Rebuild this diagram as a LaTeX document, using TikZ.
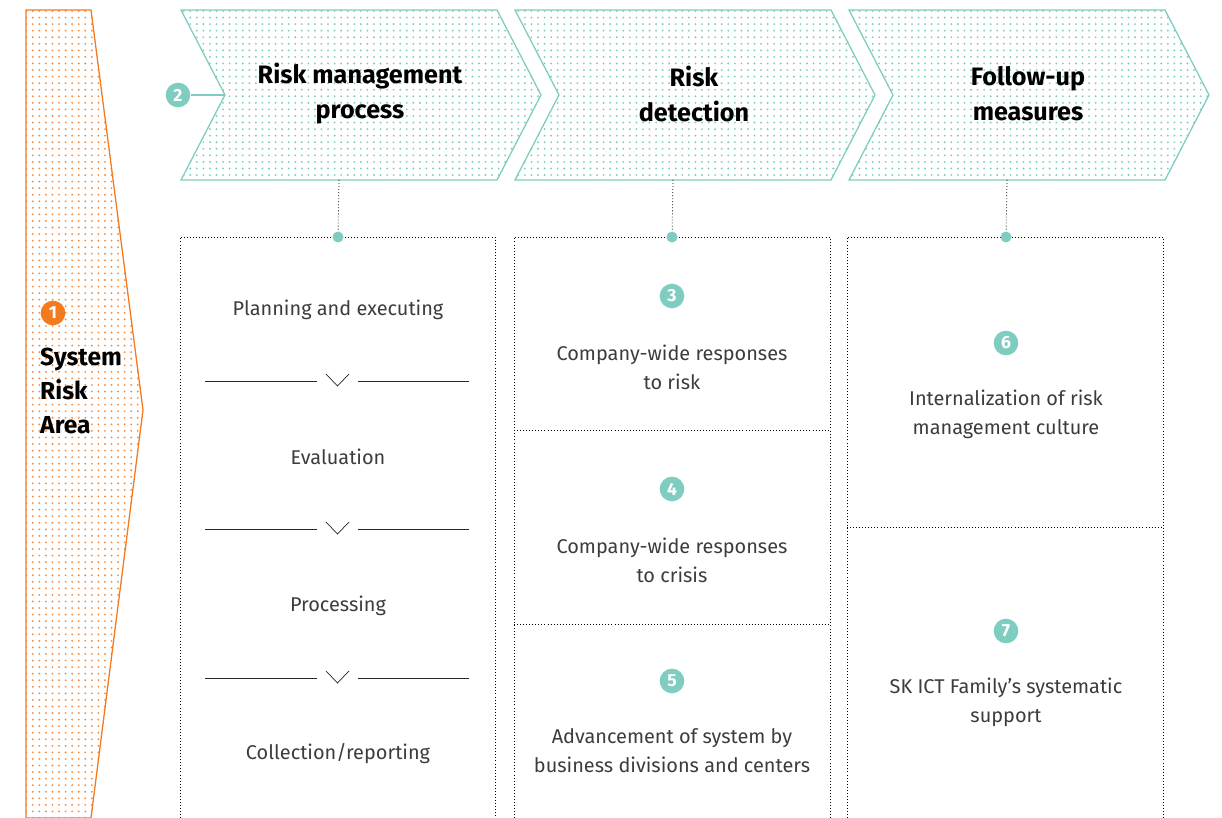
\documentclass[tikz,border=0pt]{standalone}
\usepackage{fontspec}
\setmainfont{Fira Sans}
\usetikzlibrary{positioning}
\usetikzlibrary{patterns.meta}

\definecolor{skteal}{HTML}{7FCDC0}
\definecolor{skorange}{HTML}{F47A20}
\definecolor{sktext}{HTML}{3C3C3C}

\begin{document}
\begin{tikzpicture}[
    x=0.03cm, y=-0.03cm,
    chev/.style={draw=skteal, line width=1.1pt, line join=miter,
                 pattern={Dots[distance=5.6pt, radius=0.9pt]}, pattern color=skteal},
    area/.style={draw=skorange, line width=1.1pt,
                 pattern={Dots[distance=5.6pt, radius=0.9pt]}, pattern color=skorange!85},
    head/.style={align=center, font=\bfseries\fontsize{21.5}{30}\selectfont, text=black},
    item/.style={align=center, font=\fontsize{17}{25}\selectfont, text=sktext},
    num/.style={circle, fill=#1, text=white, inner sep=0pt, minimum size=0.74cm,
                font=\bfseries\fontsize{15}{15}\selectfont},
    num/.default=skteal,
    tdot/.style={circle, fill=skteal, inner sep=0pt, minimum size=0.33cm},
    dotline/.style={draw=black, line width=0.65pt, dash pattern=on 0.7pt off 1.9pt},
    sep/.style={draw=black!85, line width=0.6pt}
  ]
    \useasboundingbox (0,0) rectangle (1222,818);
    \clip (0,0) rectangle (1222,818);

    % Colonne gauche : zone orange
    \draw[area] (26,818) -- (26,10) -- (91,10) -- (143,410) -- (91,818) -- cycle;
    \node[num=skorange] (n1) at (53,313) {1};
    \node[head, align=left, anchor=north west, inner sep=0pt,
          font=\bfseries\fontsize{21}{29}\selectfont]
      (area) at (40,348) {System\\Risk\\Area};

    % Chevrons du haut
    \foreach \i/\nm in {0/chA,1/chB,2/chC} {
      \pgfmathsetmacro\xo{181+334*\i}
      \draw[chev] (\xo,10) -- ++(316,0) -- ++(44,85) -- ++(-44,85)
                  -- ++(-316,0) -- ++(44,-85) -- cycle;
      \coordinate (\nm-notch) at (\xo+44,95);
      \coordinate (\nm-foot) at (\xo+158,180);
    }
    \node[head] (hdA) at (360,94) {Risk management\\process};
    \node[head] (hdB) at (694,94) {Risk\\detection};
    \node[head] (hdC) at (1028,94) {Follow-up\\measures};

    \node[num] (n2) at (178,95) {2};
    \draw[skteal, line width=1.1pt] (n2) -- (chA-notch);

    % Cadres pointillés
    \draw[dotline] (180,818) |- (495,237) -- (495,818);
    \draw[dotline] (514,818) |- (830,237) -- (830,818);
    \draw[dotline] (847,818) |- (1163,237) -- (1163,818);
    \draw[dotline] (514,430) -- (830,430);
    \draw[dotline] (514,624) -- (830,624);
    \draw[dotline] (847,527) -- (1163,527);

    % Liaisons chevron -> cadre
    \node[tdot] (dotA) at (338,237) {};
    \node[tdot] (dotB) at (672,237) {};
    \node[tdot] (dotC) at (1006,237) {};
    \draw[dotline] (chA-foot) -- (dotA);
    \draw[dotline] (chB-foot) -- (dotB);
    \draw[dotline] (chC-foot) -- (dotC);

    % Processus
    \node[item] (plan) at (338,310) {Planning and executing};
    \node[item] (eval) at (338,457) {Evaluation};
    \node[item] (proc) at (338,606) {Processing};
    \node[item] (coll) at (338,754) {Collection/reporting};
    \foreach \y in {381,529,678} {
      \draw[sep] (205,\y) -- (317,\y);
      \draw[sep] (358,\y) -- (469,\y);
      \draw[sep] (326,\y-7) -- (337.5,\y+5) -- (349,\y-7);
    }

    % Détection
    \node[num] (n3) at (672,296) {3};
    \node[item] (resp) at (672,367) {Company-wide responses\\to risk};
    \node[num] (n4) at (672,489) {4};
    \node[item] (crisis) at (672,560) {Company-wide responses\\to crisis};
    \node[num] (n5) at (672,681) {5};
    \node[item] (adv) at (672,751) {Advancement of system by\\business divisions and centers};

    % Suivi
    \node[num] (n6) at (1006,343) {6};
    \node[item] (intern) at (1006,414) {Internalization of risk\\management culture};
    \node[num] (n7) at (1006,631) {7};
    \node[item] (family) at (1006,702) {SK ICT Family's systematic\\support};
\end{tikzpicture}
\end{document}
